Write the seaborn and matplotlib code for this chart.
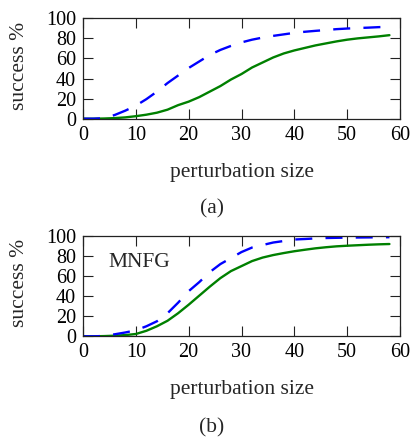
import matplotlib
matplotlib.use("Agg")
import matplotlib.pyplot as plt
import seaborn as sns
import pandas as pd

sns.set_theme(style="ticks")
plt.rcParams["font.family"] = ["Liberation Serif", "DejaVu Serif"]

# perturbation sizes
size = [0, 2, 4, 6, 8, 10, 12, 14, 16, 18, 20, 22, 24, 26, 28, 30,
        32, 34, 36, 38, 40, 42, 44, 46, 48, 50, 52, 54, 56, 58]

# panel (a)
a_dashed = [0, 0, 0.5, 3.7, 8, 13, 19.5, 27, 35.5, 43, 50.5, 57, 63.5, 68.5, 72.5, 76,
            78.7, 80.8, 82.5, 84, 85.5, 86.6, 87.5, 88.3, 89.2, 89.8, 90.3, 90.7, 91.2, 91.6]
a_solid = [0, 0, 0.2, 0.6, 1.3, 2.5, 4, 6, 9, 13.5, 17, 21.5, 27, 32.5, 39, 44.5,
           51, 56, 61, 65, 68, 70.5, 73, 75, 77, 78.7, 80, 81, 82, 83.2]

# panel (b), MNFG
b_dashed = [0, 0, 0.3, 2, 3.8, 6, 10, 15, 23, 33.5, 45, 54, 64, 72, 78, 84,
            88.5, 91, 93.5, 95, 96.5, 97, 97.6, 98, 98.2, 98.4, 98.5, 98.6, 98.7, 98.8]
b_solid = [0, 0, 0.2, 0.6, 1.2, 2.3, 5.5, 10, 15.5, 23, 31.5, 40.5, 49.5, 58, 65, 70,
           75, 78.5, 81, 83, 84.8, 86.3, 87.7, 88.8, 89.7, 90.3, 90.8, 91.3, 91.7, 92]

xticks = [0, 10, 20, 30, 40, 50, 60]
yticks = [0, 20, 40, 60, 80, 100]

W, H = 413, 438
fig = plt.figure(figsize=(W / 100, H / 100), dpi=100)

def axes_box(top_px, bottom_px, left_px=83, right_px=400):
    return [left_px / W, (H - bottom_px) / H, (right_px - left_px) / W, (bottom_px - top_px) / H]

panels = [
    (axes_box(18.3, 118.7), a_dashed, a_solid, "(a)", 208.5, 66, None),
    (axes_box(236.0, 336.3), b_dashed, b_solid, "(b)", 427.5, 283, "MNFG"),
]

for box, dashed, solid, caption, cap_y, ylab_y, tag in panels:
    ax = fig.add_axes(box)
    df = pd.DataFrame({"size": size, "dashed": dashed, "solid": solid})
    sns.lineplot(data=df, x="size", y="solid", ax=ax, color="#008000", lw=1.7)
    sns.lineplot(data=df, x="size", y="dashed", ax=ax, color="#0000ff", lw=1.7)
    ax.lines[-1].set_dashes([7.2, 5.6])
    ax.set_xlim(0, 60)
    ax.set_ylim(0, 100)
    ax.set_xticks(xticks)
    ax.set_yticks(yticks)
    ax.tick_params(direction="in", length=7.2, width=0.8, labelsize=14.5,
                   top=True, right=True, colors="#222222", labelcolor="black")
    ax.tick_params(axis="x", pad=5)
    ax.tick_params(axis="y", pad=5)
    for s in ax.spines.values():
        s.set_linewidth(0.9)
        s.set_color("#222222")
    ax.set_xlabel("perturbation size", fontsize=15.5, labelpad=13)
    ax.set_ylabel("")
    fig.text(19.5 / W, 1 - ylab_y / H, "success %", fontsize=15.5, rotation=90,
             ha="center", va="center")
    if tag:
        ax.text(4.8, 74, tag, fontsize=15.5, va="center", ha="left")
    fig.text(212 / W, 1 - cap_y / H, caption, fontsize=15.5, ha="center", va="center")

fig.savefig("out.png", dpi=100)
